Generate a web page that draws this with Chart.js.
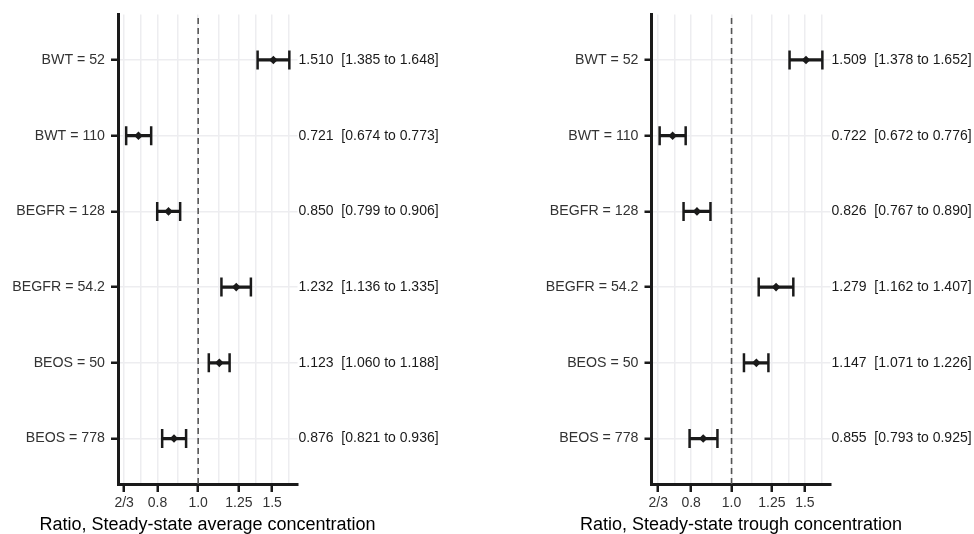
<!DOCTYPE html>
<html><head><meta charset="utf-8">
<script src="https://cdn.jsdelivr.net/npm/chart.js@4.4.1/dist/chart.umd.min.js"></script>
<style>
html,body{margin:0;padding:0;background:#fff;}
#wrap{position:relative;width:974px;height:534px;overflow:hidden;background:#fff;}
canvas{position:absolute;top:0;}
</style></head><body>
<div id="wrap">
<canvas id="c1" width="559" height="534" style="left:-72px"></canvas>
<canvas id="c2" width="487" height="534" style="left:487px"></canvas>
</div>
<script>
// ---- data ----
const categories = ["BWT = 52","BWT = 110","BEGFR = 128","BEGFR = 54.2","BEOS = 50","BEOS = 778"];
const avgRatio = [1.510,0.721,0.850,1.232,1.123,0.876];
const avgLower = [1.385,0.674,0.799,1.136,1.060,0.821];
const avgUpper = [1.648,0.773,0.906,1.335,1.188,0.936];
const troughRatio = [1.509,0.722,0.826,1.279,1.147,0.855];
const troughLower = [1.378,0.672,0.767,1.162,1.071,0.793];
const troughUpper = [1.652,0.776,0.890,1.407,1.226,0.925];
const majorTicks = [2/3,0.8,1.0,1.25,1.5];
const majorTickLabels = ["2/3","0.8","1.0","1.25","1.5"];
const minorTicks = [0.7303,0.8944,1.1180,1.3693,1.6432];
const refLine = 1.0;
const axisTitles = ["Ratio, Steady-state average concentration","Ratio, Steady-state trough concentration"];

// ---- style ----
const FONT = "'Liberation Sans', Arial, Helvetica, sans-serif";
Chart.defaults.font.family = FONT;
const DARK = '#1a1a1a';
const GRID = '#ededf0';
const TICKC = '#333333';

function isMajor(v){ return majorTicks.some(m => Math.abs(m - v) < 1e-6); }
function majorLabel(v){ const i = majorTicks.findIndex(m => Math.abs(m - v) < 1e-6); return i >= 0 ? majorTickLabels[i] : ''; }

function makePanel(id, est, lo, hi, title, L){
  // ggplot-like 5% expansion on log scale
  const lmin = Math.log(Math.min(...lo)), lmax = Math.log(Math.max(...hi));
  const ex = (lmax - lmin) * 0.05;
  const xmin = Math.exp(lmin - ex), xmax = Math.exp(lmax + ex);
  const annot = est.map((v,i) => v.toFixed(3) + '  [' + lo[i].toFixed(3) + ' to ' + hi[i].toFixed(3) + ']');
  const allTicks = majorTicks.concat(minorTicks).sort((a,b)=>a-b);
  const rowTicks = s => { s.ticks = categories.map((c,i) => ({value: i})); };

  new Chart(document.getElementById(id), {
    type: 'scatter',
    data: {
      datasets: [
        { type:'scatter', data: est.map((v,i)=>({x:v, y:i})), xAxisID:'x', yAxisID:'y',
          pointStyle:'rectRot', pointRadius:4.3, pointHoverRadius:4.3,
          pointBackgroundColor:DARK, pointBorderWidth:0, order:0 },
        { type:'scatter', data: lo.map((v,i)=>({x:v, y:i})).concat(hi.map((v,i)=>({x:v, y:i}))),
          xAxisID:'x', yAxisID:'y',
          pointStyle:'line', pointRotation:90, pointRadius:9.5, pointHoverRadius:9.5,
          pointBorderColor:DARK, pointBorderWidth:2.5, order:1 },
        { type:'bar', indexAxis:'y', data: lo.map((v,i)=>({x:[v, hi[i]], y:i})),
          xAxisID:'x', yAxisID:'y', backgroundColor:DARK, borderWidth:0,
          barThickness:2.5, order:2 },
        { type:'line', data:[{x:refLine, y:0},{x:refLine, y:1}], xAxisID:'x', yAxisID:'y2',
          borderColor:'#555555', borderWidth:1.6, borderDash:[6,4], pointRadius:0, order:3 }
      ]
    },
    options: {
      responsive:false, animation:false, devicePixelRatio:1, events:[],
      layout:{ padding:{ top:13, left:L.pl, right:L.pr, bottom:0 } },
      plugins:{
        legend:{display:false}, tooltip:{enabled:false},
        title:{ display:true, position:'bottom', text:title, color:'#000',
                font:{ size:18, weight:'normal', lineHeight:1 }, padding:{ top:0, bottom:0 } }
      },
      scales: {
        x: {
          type:'logarithmic', position:'bottom', min:xmin, max:xmax, bounds:'data',
          afterBuildTicks: s => { s.ticks = allTicks.map(v => ({value:v})); },
          afterFit: s => { s.height = 32; },
          grid: { color:GRID, lineWidth:1.5, tickLength:8, tickWidth:2.5,
                  tickColor: ctx => (ctx.tick && isMajor(ctx.tick.value)) ? DARK : 'rgba(0,0,0,0)' },
          border: { color:DARK, width:3 },
          ticks: { autoSkip:false, maxRotation:0, minRotation:0, color:TICKC, padding:3,
                   font:{ size:14 }, callback: v => majorLabel(v) }
        },
        y: {
          type:'linear', position:'left', min:-0.6, max:5.6, reverse:true, offset:false,
          afterBuildTicks: rowTicks,
          afterFit: s => { s.width = L.yw; },
          grid: { color:GRID, lineWidth:1.5, offset:false, tickLength:7, tickWidth:2.5, tickColor:DARK },
          border: { color:DARK, width:3 },
          ticks: { autoSkip:false, color:TICKC, padding:6, font:{ size:14.2 }, callback: v => categories[v] }
        },
        yt: {
          type:'linear', position:'right', min:-0.6, max:5.6, reverse:true, offset:false,
          afterBuildTicks: rowTicks,
          afterFit: s => { s.width = L.rw; },
          grid: { display:false, drawTicks:false, drawOnChartArea:false },
          border: { display:false },
          ticks: { autoSkip:false, color:'#1a1a1a', padding:1, font:{ size:14 }, callback: v => annot[v] }
        },
        y2: { type:'linear', min:0, max:1, display:false }
      }
    }
  });
}

// left canvas placed at page x=-72 : chart area 190..369.5 (page 118..297.5), title centred at page 207.5
makePanel('c1', avgRatio, avgLower, avgUpper, axisTitles[0], { pl:0, pr:0, yw:190, rw:189.5 });
// right canvas placed at page x=487 : chart area 164.5..343.5 (page 651.5..830.5), title centred at page 741
makePanel('c2', troughRatio, troughLower, troughUpper, axisTitles[1], { pl:21, pr:0, yw:143.5, rw:143.5 });
</script>
</body></html>
